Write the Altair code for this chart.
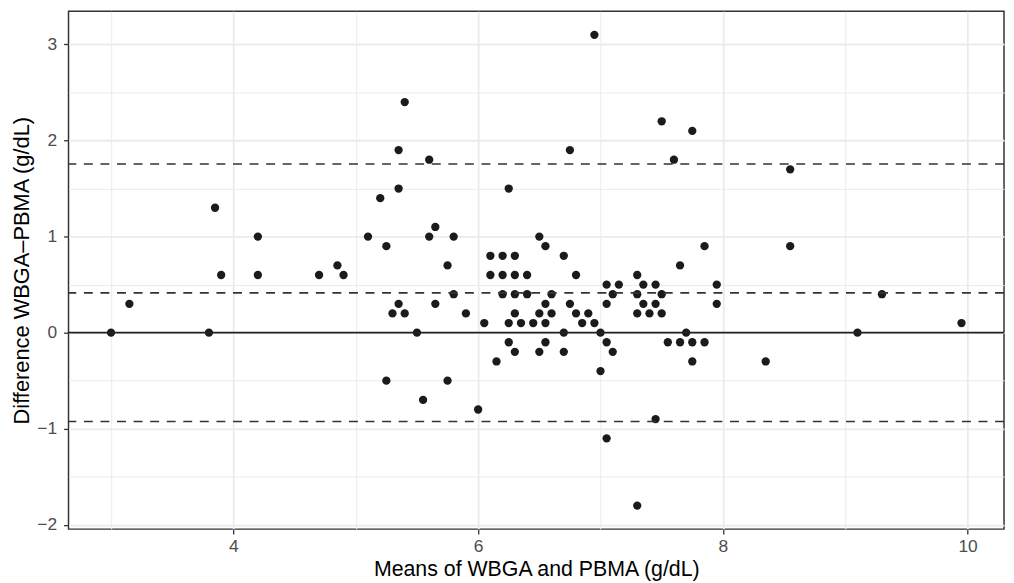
import altair as alt
import pandas as pd

# Bland-Altman data
means = [
    3.0, 3.15, 3.8, 3.85, 3.9, 4.2, 4.2, 4.7, 4.85, 4.9,
    5.1, 5.2, 5.25, 5.35, 5.35, 5.4, 5.6, 5.6, 5.65, 5.8,
    5.75, 5.8, 5.35, 5.65, 5.3, 5.4, 5.9, 5.5, 5.25, 5.75,
    5.55, 6.0, 6.05,
    6.1, 6.1, 6.15, 6.25, 6.2, 6.3, 6.2, 6.3, 6.4, 6.2,
    6.3, 6.4, 6.3, 6.25, 6.35, 6.45, 6.25, 6.3, 6.5, 6.55,
    6.7, 6.8, 6.6, 6.55, 6.75, 6.5, 6.6, 6.8, 6.9, 6.55,
    6.85, 6.95, 6.7, 7.0, 6.55, 6.5, 6.7, 6.75, 6.95,
    7.05, 7.15, 7.1, 7.05, 7.05, 7.1, 7.0, 7.05, 7.3, 7.35,
    7.45, 7.3, 7.5, 7.35, 7.45, 7.3, 7.4, 7.5, 7.45, 7.3,
    7.65, 7.7, 7.55, 7.65, 7.75, 7.85, 7.75, 7.95, 7.95, 7.5,
    7.75, 7.6, 7.85, 8.55, 8.55, 8.35, 9.1, 9.3, 9.95,
]
diffs = [
    0.0, 0.3, 0.0, 1.3, 0.6, 1.0, 0.6, 0.6, 0.7, 0.6,
    1.0, 1.4, 0.9, 1.9, 1.5, 2.4, 1.8, 1.0, 1.1, 1.0,
    0.7, 0.4, 0.3, 0.3, 0.2, 0.2, 0.2, 0.0, -0.5, -0.5,
    -0.7, -0.8, 0.1,
    0.8, 0.6, -0.3, 1.5, 0.8, 0.8, 0.6, 0.6, 0.6, 0.4,
    0.4, 0.4, 0.2, 0.1, 0.1, 0.1, -0.1, -0.2, 1.0, 0.9,
    0.8, 0.6, 0.4, 0.3, 0.3, 0.2, 0.2, 0.2, 0.2, 0.1,
    0.1, 0.1, 0.0, 0.0, -0.1, -0.2, -0.2, 1.9, 3.1,
    0.5, 0.5, 0.4, 0.3, -0.1, -0.2, -0.4, -1.1, 0.6, 0.5,
    0.5, 0.4, 0.4, 0.3, 0.3, 0.2, 0.2, 0.2, -0.9, -1.8,
    0.7, 0.0, -0.1, -0.1, -0.1, -0.1, -0.3, 0.5, 0.3, 2.2,
    2.1, 1.8, 0.9, 1.7, 0.9, -0.3, 0.0, 0.4, 0.1,
]
loa_lines = [1.755, 0.414, -0.925]   # upper limit, bias, lower limit
zero_line = [0.0]
x_ticks = [3, 4, 5, 6, 7, 8, 9, 10]
y_ticks = [-2, -1.5, -1, -0.5, 0, 0.5, 1, 1.5, 2, 2.5, 3]
x_domain = [2.6525, 10.2975]
y_domain = [-2.045, 3.345]

FONT = "Liberation Sans"

pts = pd.DataFrame({"mean": means, "diff": diffs})
loa = pd.DataFrame({"diff": loa_lines})
zero = pd.DataFrame({"diff": zero_line})

x_axis = alt.Axis(
    title="Means of WBGA and PBMA (g/dL)",
    values=x_ticks,
    format=".0f",
    labelExpr="datum.value % 2 == 0 ? datum.label : ''",
    grid=True,
    gridColor="#EBEBEB",
    gridWidth={"condition": {"test": "datum.value % 2 == 1", "value": 1.0}, "value": 1.8},
    tickOpacity={"condition": {"test": "datum.value % 2 == 1", "value": 0}, "value": 1},
    domain=False,
    tickColor="#333333", tickSize=5, tickWidth=1.3,
    labelFont=FONT, labelFontSize=17.5, labelColor="#4D4D4D", labelPadding=4,
    labelOverlap=False, labelFlush=False,
    titleFont=FONT, titleFontSize=21.5, titleFontWeight="normal", titleColor="#000000",
    titlePadding=3,
)
y_axis = alt.Axis(
    title="Difference WBGA\u2013PBMA (g/dL)",
    values=y_ticks,
    format=".0f",
    labelExpr="datum.value % 1 == 0 ? datum.label : ''",
    grid=True,
    gridColor="#EBEBEB",
    gridWidth={"condition": {"test": "datum.value % 1 != 0", "value": 1.0}, "value": 1.8},
    tickOpacity={"condition": {"test": "datum.value % 1 != 0", "value": 0}, "value": 1},
    domain=False,
    tickColor="#333333", tickSize=5, tickWidth=1.3,
    labelFont=FONT, labelFontSize=17.5, labelColor="#4D4D4D", labelPadding=7,
    labelOverlap=False, labelFlush=False,
    titleFont=FONT, titleFontSize=22, titleFontWeight="normal", titleColor="#000000",
    titlePadding=3,
)

x_scale = alt.Scale(domain=x_domain, nice=False, zero=False)
y_scale = alt.Scale(domain=y_domain, nice=False, zero=False)

points = alt.Chart(pts).mark_circle(size=70, color="#1E1A1B", opacity=1).encode(
    x=alt.X("mean:Q", scale=x_scale, axis=x_axis),
    y=alt.Y("diff:Q", scale=y_scale, axis=y_axis),
)

zero_rule = alt.Chart(zero).mark_rule(color="#222222", strokeWidth=1.7).encode(
    y=alt.Y("diff:Q", scale=y_scale, axis=y_axis),
)

loa_rule = alt.Chart(loa).mark_rule(
    color="#333333", strokeWidth=1.6, strokeDash=[9, 7.7]
).encode(
    y=alt.Y("diff:Q", scale=y_scale, axis=y_axis),
)

chart = alt.layer(points, zero_rule, loa_rule).properties(
    width=943,
    height=522,
    autosize=alt.AutoSizeParams(type="none"),
    padding={"left": 61, "top": 1, "right": 2, "bottom": 52},
    background="white",
).configure_view(stroke="#333333", strokeWidth=1.5)

chart.save("out.html", embed_options={"renderer": "svg", "actions": False})
